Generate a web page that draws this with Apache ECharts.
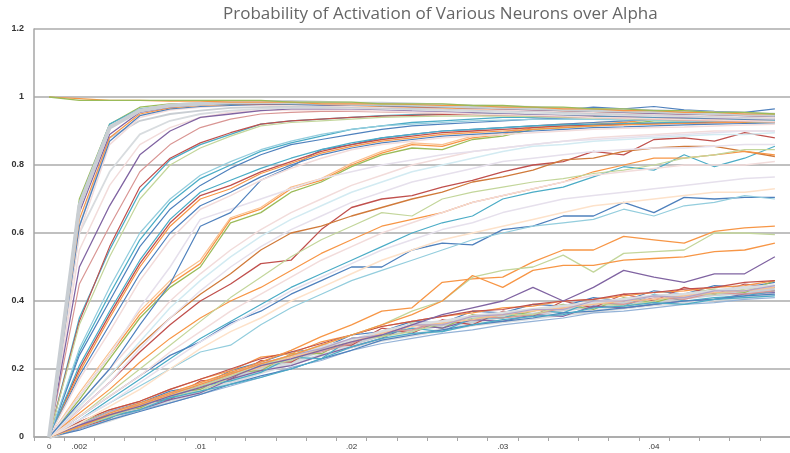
<!DOCTYPE html>
<html><head><meta charset="utf-8">
<script src="https://cdn.jsdelivr.net/npm/echarts@6/dist/echarts.min.js"></script>
<style>html,body{margin:0;padding:0;background:#fff}#c{width:790px;height:453px}</style>
</head><body><div id="c"></div>
<script>
// ---- categories (alpha) and tick labels ----
const alphas = ['0','.002','.004','.006','.008','.01','.012','.014','.016','.018','.02','.022','.024','.026','.028','.03','.032','.034','.036','.038','.04','.042','.044','.046','.048'];
const shownLabels = ['0','.002','.01','.02','.03','.04'];
const yTicks = [0, 0.2, 0.4, 0.6, 0.8, 1, 1.2];

// ---- series values ----
const top1 = [1,.99,.99,.99,.99,.99,.99,.99,.985,.985,.985,.98,.98,.98,.975,.975,.97,.97,.965,.965,.96,.96,.955,.955,.95];
const top2 = [1,.995,.99,.99,.988,.988,.985,.985,.985,.98,.98,.98,.978,.975,.975,.97,.97,.965,.965,.96,.96,.955,.955,.95,.95];

const f1 = [0,.68,.91,.96,.975,.98,.985,.985,.985,.983,.98,.98,.978,.975,.972,.97,.968,.965,.962,.96,.958,.955,.952,.95,.948];
const f2 = [0,.69,.92,.965,.975,.98,.98,.982,.98,.98,.978,.975,.975,.972,.97,.968,.965,.965,.96,.958,.955,.955,.95,.948,.945];
const f3 = [0,.66,.89,.955,.97,.978,.98,.98,.98,.978,.976,.975,.972,.97,.968,.965,.962,.96,.958,.955,.952,.95,.948,.945,.943];
const f4 = [0,.70,.92,.97,.98,.982,.985,.985,.983,.98,.98,.978,.975,.972,.97,.968,.965,.962,.96,.958,.955,.953,.95,.948,.946];
const f5 = [0,.64,.88,.95,.968,.975,.978,.98,.98,.978,.975,.972,.97,.968,.966,.965,.963,.96,.958,.955,.953,.95,.948,.946,.944];
const f6 = [0,.62,.87,.945,.965,.972,.975,.978,.978,.976,.975,.975,.972,.97,.968,.97,.968,.962,.97,.965,.972,.962,.958,.955,.965];
const f7 = [0,.60,.86,.94,.962,.97,.975,.976,.976,.975,.973,.97,.97,.968,.965,.962,.96,.958,.955,.953,.95,.948,.945,.943,.94];

const g2a = [0,.62,.88,.93,.95,.96,.968,.97,.972,.972,.97,.968,.966,.965,.962,.96,.958,.955,.952,.95,.948,.946,.944,.942,.94];
const g2b = [0,.60,.78,.89,.93,.95,.96,.965,.968,.968,.967,.965,.963,.96,.958,.955,.952,.95,.948,.946,.944,.942,.94,.938,.936];
const g2c = [0,.50,.68,.83,.90,.94,.95,.96,.965,.965,.965,.963,.96,.958,.955,.953,.95,.948,.946,.944,.942,.94,.938,.936,.935];
const g2d = [0,.55,.74,.86,.91,.94,.955,.96,.962,.962,.96,.958,.955,.953,.95,.948,.946,.944,.94,.938,.936,.934,.932,.93,.928];
const g2e = [0,.45,.62,.78,.86,.91,.935,.95,.955,.958,.958,.956,.954,.952,.95,.948,.945,.942,.94,.938,.935,.932,.93,.928,.926];

const g3a = [0,.35,.55,.72,.815,.86,.89,.92,.93,.935,.94,.945,.948,.95,.95,.95,.948,.946,.944,.942,.94,.938,.936,.934,.932];
const g3b = [0,.34,.56,.735,.82,.865,.895,.92,.93,.935,.94,.944,.946,.948,.948,.946,.944,.942,.94,.938,.936,.934,.932,.93,.928];
const g3c = [0,.33,.53,.70,.80,.85,.885,.915,.925,.93,.935,.94,.942,.944,.944,.944,.942,.94,.938,.936,.934,.932,.93,.928,.926];
const g3d = [0,.25,.42,.58,.69,.76,.80,.84,.865,.885,.905,.915,.925,.93,.935,.94,.94,.942,.942,.94,.94,.938,.936,.934,.932];
const g3e = [0,.24,.40,.56,.67,.74,.79,.83,.86,.875,.89,.905,.915,.92,.925,.93,.935,.938,.94,.94,.942,.94,.94,.938,.936];
const g3f = [0,.26,.44,.60,.70,.77,.81,.845,.87,.89,.905,.915,.92,.925,.93,.932,.934,.935,.934,.933,.932,.93,.93,.928,.926];

const g4a = [0,.20,.36,.51,.63,.71,.74,.78,.81,.84,.86,.875,.885,.895,.90,.905,.91,.915,.918,.92,.922,.924,.926,.928,.93];
const g4b = [0,.19,.35,.50,.62,.70,.73,.775,.805,.835,.855,.87,.88,.89,.895,.90,.905,.91,.915,.918,.92,.922,.924,.926,.928];
const g4c = [0,.18,.33,.48,.60,.68,.72,.765,.80,.83,.85,.865,.875,.885,.89,.895,.90,.905,.91,.912,.915,.918,.92,.922,.924];
const g4d = [0,.21,.37,.52,.64,.72,.755,.79,.82,.845,.865,.88,.89,.90,.905,.91,.915,.918,.92,.922,.924,.926,.928,.93,.93];
const g4e = [0,.17,.31,.46,.58,.67,.71,.755,.79,.82,.845,.86,.87,.88,.885,.89,.895,.90,.905,.908,.91,.912,.915,.918,.92];
const g4f = [0,.10,.20,.33,.45,.62,.66,.755,.795,.845,.86,.88,.89,.90,.905,.91,.915,.92,.925,.93,.935,.935,.94,.94,.94];
const g4g = [0,.12,.24,.38,.50,.64,.67,.70,.73,.76,.78,.80,.815,.83,.84,.85,.86,.87,.875,.88,.885,.89,.895,.90,.90];

const g5a = [0,.12,.24,.36,.45,.51,.64,.67,.73,.755,.80,.835,.86,.855,.88,.89,.91,.915,.92,.925,.935,.935,.94,.935,.935];
const g5b = [0,.11,.23,.35,.44,.50,.63,.66,.72,.75,.795,.83,.85,.845,.875,.885,.905,.91,.915,.92,.93,.93,.935,.925,.925];
const g5c = [0,.13,.25,.37,.46,.52,.645,.675,.735,.76,.805,.84,.865,.86,.885,.895,.915,.92,.925,.93,.94,.94,.945,.94,.94];
const g5d = [0,.10,.20,.30,.40,.48,.55,.61,.66,.70,.74,.77,.80,.82,.84,.85,.86,.87,.88,.885,.89,.895,.90,.90,.90];
const g5e = [0,.09,.18,.28,.38,.46,.53,.59,.64,.68,.72,.75,.78,.80,.82,.84,.855,.86,.87,.875,.88,.885,.89,.89,.895];
const g5f = [0,.08,.16,.26,.35,.43,.50,.56,.61,.65,.69,.72,.75,.77,.79,.81,.82,.83,.84,.845,.85,.85,.855,.86,.86];

const g6a = [0,.08,.16,.25,.33,.40,.45,.51,.52,.61,.675,.70,.71,.735,.755,.78,.80,.81,.84,.83,.875,.88,.87,.895,.88];
const g6b = [0,.09,.18,.27,.35,.42,.48,.55,.60,.62,.65,.675,.70,.72,.75,.765,.785,.815,.82,.84,.85,.855,.855,.84,.825];
const g6c = [0,.07,.14,.22,.29,.35,.40,.44,.49,.54,.58,.62,.64,.66,.69,.71,.73,.75,.78,.80,.82,.82,.83,.84,.83];
const g6d = [0,.06,.13,.20,.27,.34,.41,.47,.53,.58,.62,.66,.65,.70,.72,.735,.75,.76,.775,.785,.80,.82,.83,.845,.845];
const g6e = [0,.05,.10,.16,.22,.28,.33,.38,.43,.47,.51,.55,.58,.61,.63,.66,.68,.70,.71,.72,.73,.74,.75,.76,.765];
const g6f = [0,.06,.12,.18,.25,.31,.37,.42,.47,.52,.56,.60,.63,.66,.69,.71,.73,.75,.77,.78,.79,.80,.80,.80,.81];
const g6g = [0,.04,.09,.14,.20,.26,.31,.35,.40,.44,.48,.52,.55,.58,.60,.62,.64,.66,.68,.69,.70,.71,.72,.72,.73];

const g7a = [0,.05,.11,.17,.23,.29,.34,.39,.44,.48,.52,.56,.60,.63,.65,.70,.72,.735,.765,.795,.785,.83,.795,.82,.855];
const g7b = [0,.06,.12,.18,.24,.28,.335,.37,.42,.46,.50,.50,.55,.57,.565,.61,.62,.65,.65,.69,.66,.705,.70,.705,.705];
const g7c = [0,.05,.10,.15,.20,.25,.27,.33,.38,.42,.46,.49,.52,.55,.58,.60,.62,.63,.64,.67,.65,.68,.69,.71,.70];

const g8a = [0,.03,.07,.10,.13,.16,.19,.22,.255,.295,.33,.37,.38,.455,.465,.47,.515,.55,.55,.59,.58,.57,.605,.615,.62];
const g8b = [0,.03,.06,.09,.12,.15,.18,.21,.24,.27,.30,.33,.37,.40,.47,.49,.50,.535,.485,.54,.545,.55,.60,.60,.595];
const g8c = [0,.03,.065,.095,.125,.155,.185,.215,.24,.27,.30,.33,.36,.40,.475,.44,.49,.505,.505,.52,.525,.53,.545,.55,.57];
const g8d = [0,.035,.065,.09,.12,.145,.175,.21,.23,.255,.28,.30,.33,.36,.38,.40,.44,.40,.44,.49,.47,.455,.48,.48,.53];

const b1 = [0,.03,.06,.09,.115,.145,.17,.205,.225,.255,.275,.30,.315,.33,.34,.355,.36,.375,.385,.395,.40,.41,.42,.425,.435];
const b2 = [0,.04,.075,.10,.135,.15,.195,.22,.25,.26,.30,.31,.34,.335,.37,.365,.39,.385,.41,.40,.43,.42,.445,.44,.455];
const b3 = [0,.025,.055,.10,.11,.165,.17,.225,.22,.27,.27,.32,.305,.345,.33,.37,.355,.40,.38,.42,.40,.44,.42,.45,.44];
const b4 = [0,.04,.075,.085,.13,.14,.19,.195,.245,.245,.29,.295,.335,.32,.36,.35,.37,.39,.375,.41,.395,.42,.435,.425,.46];
const b5 = [0,.03,.06,.08,.11,.13,.17,.195,.21,.24,.265,.29,.33,.32,.345,.34,.36,.355,.385,.38,.39,.40,.405,.42,.425];
const b6 = [0,.035,.055,.095,.115,.15,.165,.19,.235,.23,.29,.30,.32,.31,.35,.35,.375,.365,.40,.385,.42,.40,.41,.415,.43];
const b7 = [0,.045,.08,.105,.14,.17,.195,.235,.245,.28,.30,.325,.34,.355,.365,.38,.385,.40,.405,.415,.425,.43,.44,.445,.46];
const b8 = [0,.025,.05,.08,.10,.125,.15,.175,.205,.225,.255,.275,.29,.305,.315,.33,.34,.35,.365,.37,.38,.39,.395,.405,.41];
const b9 = [0,.035,.07,.09,.125,.155,.185,.21,.24,.25,.275,.31,.315,.34,.355,.35,.36,.38,.395,.39,.41,.405,.425,.42,.43];
const b10 = [0,.03,.065,.095,.12,.135,.175,.21,.225,.26,.285,.295,.31,.335,.35,.36,.36,.385,.395,.385,.40,.42,.42,.435,.445];
const b11 = [0,.02,.05,.075,.10,.125,.155,.18,.20,.23,.255,.285,.30,.315,.33,.34,.35,.365,.37,.38,.39,.40,.405,.415,.42];
const b12 = [0,.045,.08,.105,.14,.17,.20,.23,.25,.275,.30,.325,.34,.355,.37,.375,.39,.40,.405,.42,.425,.435,.44,.455,.46];
const b13 = [0,.03,.06,.08,.115,.135,.155,.175,.20,.23,.265,.29,.305,.31,.33,.345,.355,.36,.38,.385,.395,.39,.405,.41,.415];
const b14 = [0,.035,.07,.095,.125,.155,.18,.215,.235,.265,.285,.31,.33,.34,.355,.365,.375,.385,.395,.405,.415,.42,.43,.44,.445];
const b15 = [0,.03,.065,.09,.125,.145,.18,.205,.235,.255,.28,.305,.325,.335,.345,.36,.37,.38,.39,.40,.405,.415,.425,.43,.44];
const b16 = [0,.035,.075,.095,.13,.15,.185,.215,.24,.26,.29,.30,.33,.33,.355,.36,.375,.375,.40,.40,.415,.41,.43,.43,.445];
const b17 = [0,.025,.05,.08,.105,.13,.16,.19,.215,.24,.265,.285,.30,.315,.33,.34,.35,.36,.37,.38,.39,.395,.405,.41,.42];

// ---- styling (kept separate from data) ----
const C = {blue:'#4F81BD',red:'#C0504D',green:'#9BBB59',purple:'#8064A2',teal:'#4BACC6',orange:'#F79646',
  lblue:'#95B3D7',lred:'#D99694',lgreen:'#C3D69B',lpurple:'#B3A2C7',lteal:'#93CDDD',lorange:'#FAC090',
  vblue:'#C6D9F1',vred:'#F2DCDB',vgreen:'#E0EAC8',vpurple:'#E6E0EC',vteal:'#D3EBF2',vorange:'#FDE2CA',
  gray:'#C9CED3',lgray:'#D8DCDF',brown:'#D07A3A'};

const seriesDefs = [
  [b17,C.lgray,3.5],[b1,C.gray,4],[b2,C.blue,1.2],[b3,C.red,1.2],[b4,C.green,1.2],[b5,C.purple,1.2],[b6,C.teal,1.2],
  [b7,C.orange,1.2],[b8,C.lblue,1.2],[b9,C.lred,1.2],[b10,C.lgreen,1.2],[b11,C.blue,1.2],[b12,C.red,1.2],
  [b13,C.teal,1.2],[b14,C.lgray,3],[b15,C.lorange,1.2],[b16,C.lpurple,1.2],
  [g8a,C.orange,1.3],[g8b,C.lgreen,1.3],[g8c,C.orange,1.3],[g8d,C.purple,1.3],
  [g7a,C.teal,1.2],[g7b,C.blue,1.3],[g7c,C.lteal,1.2],
  [g6a,C.red,1.3],[g6b,C.brown,1.3],[g6c,C.orange,1.2],[g6d,C.lgreen,1.2],[g6e,C.vpurple,1.5],[g6f,C.vred,1.5],[g6g,C.vorange,1.5],
  [g5d,C.vred,1.5],[g5e,C.vteal,1.5],[g5f,C.vpurple,1.5],[g5a,C.orange,1.3],[g5b,C.green,1.3],[g5c,C.lorange,1.2],
  [g4g,C.vpurple,1.5],[g4f,C.blue,1.2],[g4a,C.red,1.3],[g4b,C.orange,1.2],[g4c,C.blue,1.2],[g4d,C.teal,1.2],[g4e,C.vred,1.5],
  [g3d,C.teal,1.3],[g3e,C.blue,1.2],[g3f,C.lteal,1.2],[g3a,C.teal,1.3],[g3b,C.red,1.2],[g3c,C.lgreen,1.2],
  [g2e,C.lred,1.2],[g2d,C.vred,1.5],[g2c,C.purple,1.3],[g2b,C.lgray,1.8],[g2a,C.gray,1.8],
  [f7,C.vred,1.5],[f6,C.blue,1.2],[f5,C.orange,1.2],[f3,C.purple,1.3],[f4,C.green,1.3],[f2,C.teal,1.3],[f1,C.gray,4],
  [top2,C.orange,1.2],[top1,C.green,1.3]
];

const chart = echarts.init(document.getElementById('c'), null, {renderer:'canvas'});
chart.setOption({
  animation:false,
  backgroundColor:'#ffffff',
  title:{text:'Probability of Activation of Various Neurons over Alpha', left:218, top:1,
    textStyle:{fontFamily:'Open Sans', fontWeight:'normal', fontSize:17, color:'#666'}},
  grid:{left:34, right:0, top:29, bottom:16, containLabel:false},
  xAxis:{type:'category', data:alphas, boundaryGap:true,
    axisLine:{lineStyle:{color:'#a6a6a6', width:1.5}},
    axisTick:{show:true, interval:0, length:4, lineStyle:{color:'#a6a6a6'}},
    axisLabel:{interval:0, margin:6, fontSize:8, color:'#333', fontFamily:'Liberation Sans',
      formatter:v => shownLabels.indexOf(v) >= 0 ? v : ''}},
  yAxis:{type:'value', min:yTicks[0], max:yTicks[yTicks.length-1], interval:0.2,
    axisLine:{show:true, lineStyle:{color:'#a6a6a6', width:1.5}},
    axisTick:{show:false},
    splitLine:{lineStyle:{color:'#ababab', width:1.5}},
    axisLabel:{margin:10, fontSize:9, fontWeight:'bold', color:'#333', fontFamily:'Liberation Sans',
      formatter:v => String(Math.round(v*10)/10)}},
  series: seriesDefs.map((d,i)=>({type:'line', data:d[0], symbol:'none', smooth:false,
    lineStyle:{color:d[1], width:d[2]}, itemStyle:{color:d[1]}, emphasis:{disabled:true}, z:2}))
});
</script></body></html>
